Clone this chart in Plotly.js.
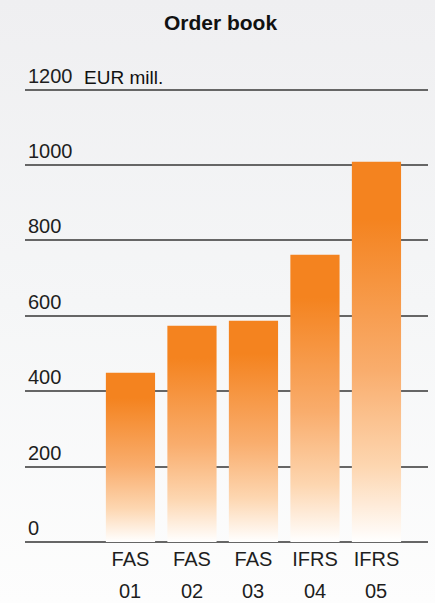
<!DOCTYPE html>
<html><head><meta charset="utf-8">
<script src="https://cdn.plot.ly/plotly-3.0.1.min.js"></script>
<style>
html,body{margin:0;padding:0;}
body{width:435px;height:603px;background:linear-gradient(to bottom,#efeff1 0%,#f5f6f7 50%,#fdfdfd 100%);overflow:hidden;}
#chart{width:435px;height:603px;}
</style></head><body><div id="chart"></div>
<script>
const categories = ['FAS', 'FAS', 'FAS', 'IFRS', 'IFRS'];
const years = ['01', '02', '03', '04', '05'];
const orderBook = [449, 574, 587, 762, 1009];
const yTicks = [0, 200, 400, 600, 800, 1000, 1200];
const unitLabel = 'EUR mill.';
const chartTitle = 'Order book';

const xIdx = categories.map((_, i) => i);
const orange = '#f4831f';
const font = 'Liberation Sans, Arial, Helvetica, sans-serif';
const txt = '#1e1e1e';

const trace = {
  type: 'bar',
  x: xIdx,
  y: orderBook,
  width: 0.8,
  marker: {color: orange, line: {width: 0}},
  hoverinfo: 'skip'
};

const xRange = [-1.715, 4.838];

const yearAnnotations = years.map((yr, i) => ({
  text: yr, xref: 'x', x: xIdx[i], xanchor: 'center',
  yref: 'paper', y: -0.101, yanchor: 'middle', showarrow: false,
  font: {family: font, size: 20, color: txt}
}));

const layout = {
  width: 435, height: 603,
  margin: {l: 25, r: 7, t: 52, b: 61},
  paper_bgcolor: 'rgba(0,0,0,0)',
  plot_bgcolor: 'rgba(0,0,0,0)',
  showlegend: false,
  title: {text: chartTitle, font: {family: font, size: 21, color: '#111', weight: 'bold'},
          xref: 'container', x: 0.507, xanchor: 'center', yref: 'container', y: 0.962, yanchor: 'middle'},
  xaxis: {
    range: xRange, tickmode: 'array', tickvals: xIdx, ticktext: categories,
    showgrid: false, zeroline: false, showline: false, ticks: '',
    tickfont: {family: font, size: 20, color: txt}, ticklabelstandoff: 3
  },
  yaxis: {
    range: [0, 1300], tickmode: 'array', tickvals: yTicks,
    ticklabelposition: 'inside top', ticks: '',
    showgrid: true, gridcolor: '#666666', gridwidth: 2,
    zeroline: true, zerolinecolor: '#666666', zerolinewidth: 2,
    showline: false,
    tickfont: {family: font, size: 20, color: txt}
  },
  annotations: [{
    text: unitLabel, xref: 'paper', x: 0.141, xanchor: 'left',
    yref: 'y', y: 1200, yanchor: 'bottom', yshift: 0, showarrow: false,
    font: {family: font, size: 19, color: '#111'}
  }].concat(yearAnnotations)
};

Plotly.newPlot('chart', [trace], layout, {displayModeBar: false, staticPlot: true}).then(gd => {
  const svg = gd.querySelector('.main-svg');
  const NS = 'http://www.w3.org/2000/svg';
  let defs = svg.querySelector('defs');
  if (!defs) { defs = document.createElementNS(NS, 'defs'); svg.insertBefore(defs, svg.firstChild); }
  const g = document.createElementNS(NS, 'linearGradient');
  g.setAttribute('id', 'obGrad');
  g.setAttribute('x1', '0'); g.setAttribute('y1', '0');
  g.setAttribute('x2', '0'); g.setAttribute('y2', '1');
  [[0, orange], [0.15, orange], [0.55, '#f9ad6d'], [0.8, '#fdd6b0'], [1, '#ffffff']].forEach(([o, c]) => {
    const s = document.createElementNS(NS, 'stop');
    s.setAttribute('offset', o); s.setAttribute('stop-color', c);
    g.appendChild(s);
  });
  defs.appendChild(g);
  gd.querySelectorAll('.trace.bars .point path').forEach(p => { p.style.fill = 'url(#obGrad)'; });
});
</script></body></html>
